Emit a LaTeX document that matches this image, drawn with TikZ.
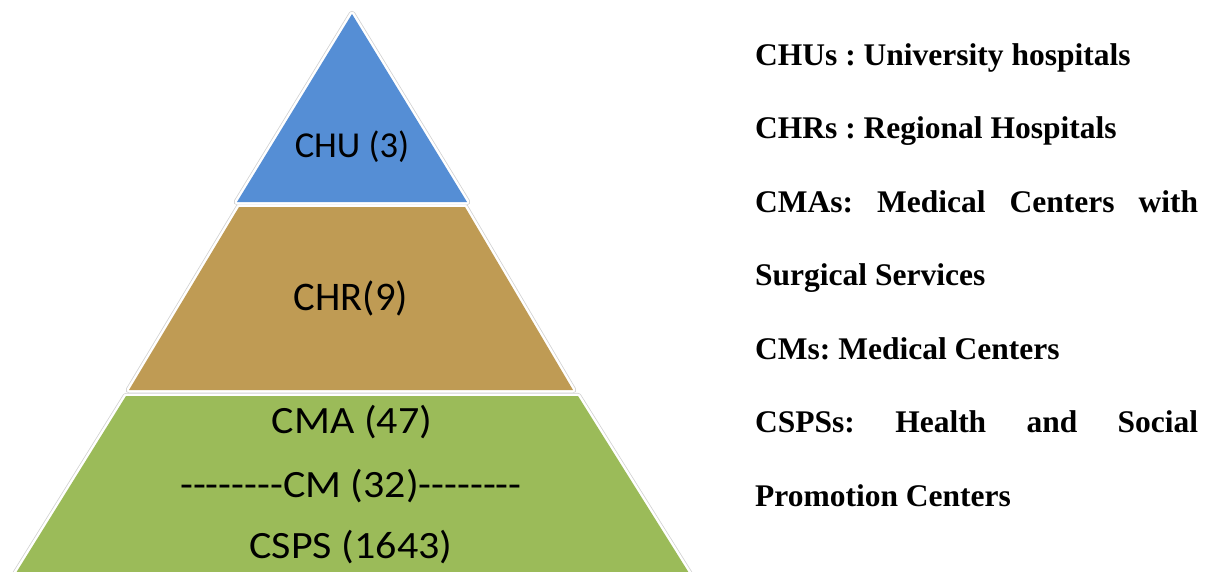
\documentclass[tikz,border=0pt]{standalone}
\usepackage{fontspec}
\setmainfont{Liberation Serif}
\newfontfamily\calib{Carlito}
\usepackage{graphicx}
\frenchspacing
\definecolor{layerblue}{RGB}{85,142,213}
\definecolor{layerbrown}{RGB}{191,155,84}
\definecolor{layergreen}{RGB}{155,187,89}
\tikzset{
  lbl/.style={anchor=base, inner sep=0pt, text=black},
  legend/.style={anchor=base west, inner sep=0pt, font=\fontsize{31.5}{36}\selectfont\bfseries},
}
\newcommand{\hyrow}{-\kern0pt-\kern0pt-\kern0pt-\kern0pt-\kern0pt-\kern0pt-\kern0pt-\kern0pt}
\begin{document}
\begin{tikzpicture}[x=1pt,y=-1pt]
\useasboundingbox (0,0) rectangle (1210,571);
\fill[white] (0,0) rectangle (1210,571);
\begin{scope}
\clip (0,0) rectangle (1210,571);
% outer faint outline
\foreach \w/\c in {6.5/black!18, 5/white}{
  \draw[line width=\w, \c, line join=round] (352,14) -- (467,202) -- (237,202) -- cycle;
  \draw[line width=\w, \c, line join=round] (239,207) -- (465,207) -- (573,390) -- (129,390) -- cycle;
  \draw[line width=\w, \c, line join=round] (126,396) -- (578,396) -- (694,581) -- (11,581) -- cycle;
}
\fill[layerblue] (352,14) -- (467,202) -- (237,202) -- cycle;
\fill[layerbrown] (239,207) -- (465,207) -- (573,390) -- (129,390) -- cycle;
\fill[layergreen] (126,396) -- (578,396) -- (694,581) -- (11,581) -- cycle;
\end{scope}

\node[lbl, font=\calib\fontsize{36.5}{40}\selectfont] (chu) at (352,157) {CHU (3)};
\node[lbl, font=\calib\fontsize{40.6}{44}\selectfont] (chr) at (351,310) {CHR(9)};
\node[lbl, font=\calib\fontsize{42}{46}\selectfont] (cma) at (352,433) {\scalebox{1}[0.92]{CMA (47)}};
\node[lbl, font=\calib\fontsize{42}{46}\selectfont] (cm) at (351,497) {\scalebox{1}[0.92]{\hyrow CM (32)\hyrow}};
\node[lbl, font=\calib\fontsize{42}{46}\selectfont] (csps) at (351,558) {\scalebox{1}[0.92]{CSPS (1643)}};

\node[legend] (l1) at (755,65) {CHUs : University hospitals};
\node[legend] (l2) at (755,138.5) {CHRs : Regional Hospitals};
\node[legend] (l3) at (755,212) {\makebox[443pt][s]{CMAs: Medical Centers with}};
\node[legend] (l4) at (755,285.5) {Surgical Services};
\node[legend] (l5) at (755,359) {CMs: Medical Centers};
\node[legend] (l6) at (755,432.5) {\makebox[443pt][s]{CSPSs: Health and Social}};
\node[legend] (l7) at (755,506) {Promotion Centers};
\end{tikzpicture}
\end{document}
